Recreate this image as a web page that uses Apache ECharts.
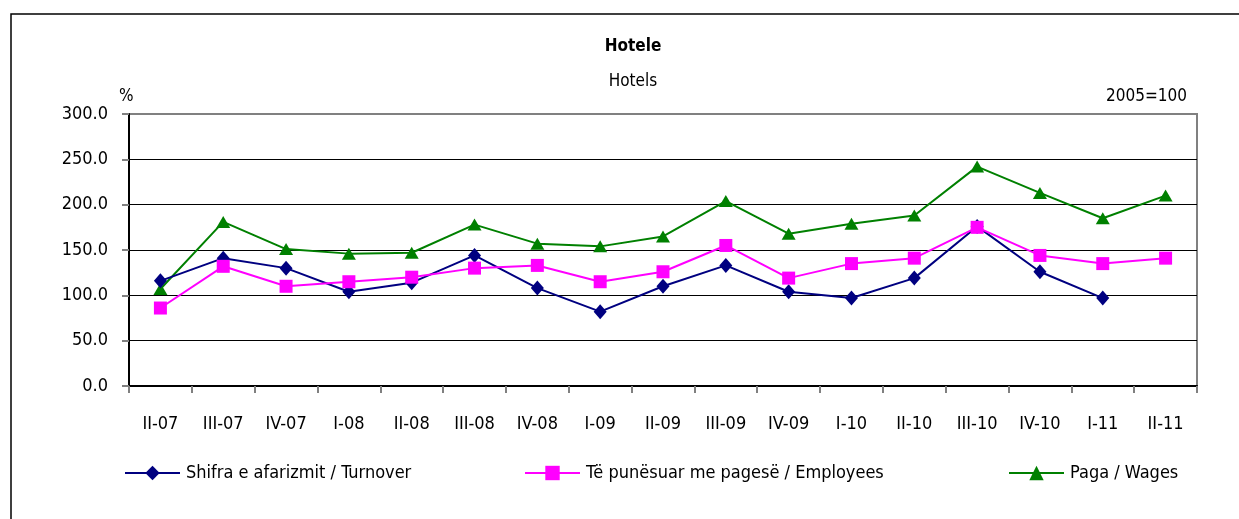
<!DOCTYPE html>
<html>
<head>
<meta charset="utf-8">
<script src="https://cdn.jsdelivr.net/npm/echarts@6/dist/echarts.min.js"></script>
<style>
html,body{margin:0;padding:0;background:#fff;}
#chart{width:1239px;height:519px;}
</style>
</head>
<body>
<div id="chart"></div>
<script>
const categories = ['II-07','III-07','IV-07','I-08','II-08','III-08','IV-08','I-09','II-09','III-09','IV-09','I-10','II-10','III-10','IV-10','I-11','II-11'];
const turnover = [116, 141, 130, 104, 114, 144, 108, 82, 110, 133, 104, 97, 119, 176, 126, 97, null];
const employees = [86, 132, 110, 115, 120, 130, 133, 115, 126, 155, 119, 135, 141, 175, 144, 135, 141];
const wages = [107, 181, 151, 146, 147, 178, 157, 154, 165, 204, 168, 179, 188, 242, 213, 185, 210];
const yTicks = [0, 50, 100, 150, 200, 250, 300];
const seriesNames = ['Shifra e afarizmit / Turnover', 'Të punësuar me pagesë / Employees', 'Paga / Wages'];

const FONT = '"DejaVu Sans Condensed", "DejaVu Sans", sans-serif';
const chart = echarts.init(document.getElementById('chart'), null, {renderer: 'canvas'});

const legendCommon = {
  orient: 'horizontal', itemWidth: 55, itemHeight: 18, top: 464, padding: 0,
  textStyle: {fontFamily: FONT, fontSize: 18, color: '#000', padding: [0, 0, 0, 1]}
};

chart.setOption({
  animation: false,
  backgroundColor: '#fff',
  grid: {left: 129, right: 42, top: 114, bottom: 133, show: true, borderColor: '#808080', borderWidth: 2},
  graphic: [
    {type: 'rect', shape: {x: 11, y: 14, width: 1260, height: 530}, style: {fill: 'none', stroke: '#000', lineWidth: 1.5}, z: 0},
    {type: 'text', x: 633, y: 47, style: {text: 'Hotele', font: 'bold 17px ' + FONT, fill: '#000', textAlign: 'center', textVerticalAlign: 'middle'}},
    {type: 'text', x: 633, y: 82, style: {text: 'Hotels', font: '17px ' + FONT, fill: '#000', textAlign: 'center', textVerticalAlign: 'middle'}},
    {type: 'text', x: 119, y: 97, style: {text: '%', font: '17px ' + FONT, fill: '#000', textAlign: 'left', textVerticalAlign: 'middle'}},
    {type: 'text', x: 1187, y: 97, style: {text: '2005=100', font: '17px ' + FONT, fill: '#000', textAlign: 'right', textVerticalAlign: 'middle'}}
  ],
  legend: [
    Object.assign({left: 124, data: [seriesNames[0]]}, legendCommon),
    Object.assign({left: 524, data: [seriesNames[1]]}, legendCommon),
    Object.assign({left: 1008, data: [seriesNames[2]]}, legendCommon)
  ],
  xAxis: {
    type: 'category',
    data: categories,
    boundaryGap: true,
    axisLine: {lineStyle: {color: '#000', width: 2}},
    axisTick: {show: true, interval: 0, length: 7, lineStyle: {color: '#808080', width: 2}},
    axisLabel: {interval: 0, margin: 29, fontFamily: FONT, fontSize: 18, color: '#000'},
    splitLine: {show: false}
  },
  yAxis: {
    type: 'value',
    min: 0, max: 300, interval: 50,
    axisLine: {show: true, lineStyle: {color: '#000', width: 2}},
    axisTick: {show: true, length: 7, lineStyle: {color: '#808080', width: 2}},
    axisLabel: {margin: 21, fontFamily: FONT, fontSize: 18, color: '#000', formatter: v => v.toFixed(1)},
    splitLine: {show: true, lineStyle: {color: ['#000','#000','#000','#000','#000','#000','#808080'], width: 1}}
  },
  series: [
    {name: seriesNames[0], type: 'line', data: turnover, color: '#000080',
     symbol: 'diamond', symbolSize: [13, 15], lineStyle: {width: 2, color: '#000080'}, itemStyle: {color: '#000080'}, z: 3, connectNulls: false},
    {name: seriesNames[1], type: 'line', data: employees, color: '#FF00FF',
     symbol: 'rect', symbolSize: 13, lineStyle: {width: 2, color: '#FF00FF'}, itemStyle: {color: '#FF00FF'}, z: 4},
    {name: seriesNames[2], type: 'line', data: wages, color: '#008000',
     symbol: 'triangle', symbolSize: [14, 12], lineStyle: {width: 2, color: '#008000'}, itemStyle: {color: '#008000'}, z: 2}
  ]
});
</script>
</body>
</html>
